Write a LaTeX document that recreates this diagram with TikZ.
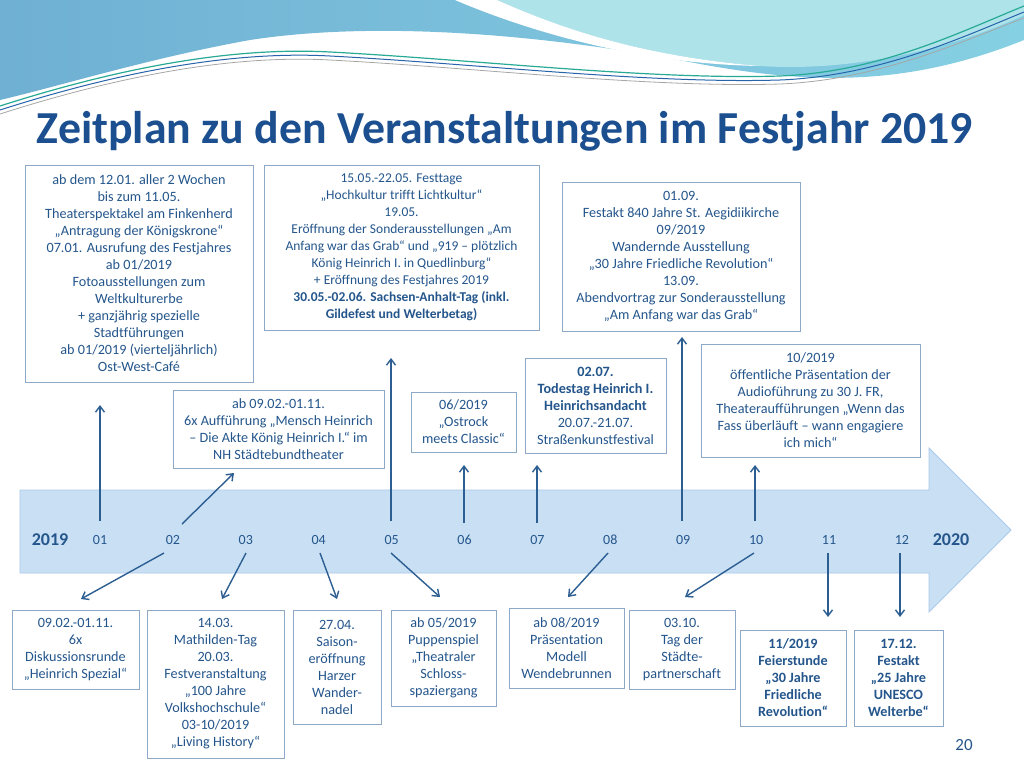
\documentclass[tikz,border=0pt]{standalone}
\usepackage{fontspec}
\setmainfont{Carlito}[Ligatures={NoCommon,TeX}]
\usetikzlibrary{arrows.meta}
\definecolor{titlec}{HTML}{1B4F8F}
\definecolor{txt}{HTML}{24568C}
\definecolor{boxc}{HTML}{8EA9C8}
\definecolor{arrc}{HTML}{2C5E92}
\definecolor{bandfill}{HTML}{C9DFF4}
\definecolor{banddraw}{HTML}{A9C9EA}
\definecolor{wave1}{HTML}{6FB0D3}
\definecolor{wave2}{HTML}{86D0E3}
\definecolor{cyanw}{HTML}{AEE3EA}
\tikzset{
  box/.style={draw=boxc, fill=white, line width=0.8pt, align=center, inner sep=2pt,
    font=\fontsize{14.2}{17}\selectfont, text=txt},
  arr/.style={draw=arrc, line width=1.4pt, -{Straight Barb[length=6pt,width=9pt]}},
  month/.style={font=\fontsize{14}{16}\selectfont, text=txt},
  year/.style={font=\fontsize{18}{20}\selectfont\bfseries, text=txt}
}
\begin{document}
\begin{tikzpicture}[x=1pt,y=-1pt]
\useasboundingbox (0,0) rectangle (1024,768);
\fill[white] (0,0) rectangle (1024,768);
% top waves
\shade[left color=wave1, right color=wave2] (0,0) -- (1024,0) -- (1024,40)
  .. controls (900,90) and (800,82) .. (700,64)
  .. controls (550,35) and (380,20) .. (250,40)
  .. controls (150,58) and (60,86) .. (0,100) -- cycle;
\fill[cyanw] (497,0) -- (1024,0) -- (1024,15) .. controls (950,50) and (850,72) .. (760,66)
  .. controls (640,56) and (560,28) .. (497,0) -- cycle;
\fill[white] (455,0) -- (497,0) .. controls (560,28) and (640,56) .. (760,66)
  .. controls (640,64) and (530,32) .. (455,0) -- cycle;
\draw[line width=1.2pt, color={rgb,255:red,40;green,170;blue,150}] (0,106) .. controls (100,74) and (220,46) .. (330,52)
  .. controls (480,60) and (650,80) .. (780,76) .. controls (880,72) and (960,32) .. (1024,6);
\draw[line width=1pt, color={rgb,255:red,40;green,100;blue,170}] (0,110) .. controls (100,78) and (220,50) .. (330,56)
  .. controls (480,64) and (650,84) .. (780,80) .. controls (880,76) and (965,36) .. (1024,12);
\draw[line width=0.8pt, color=gray!70] (0,114) .. controls (100,82) and (220,54) .. (330,60)
  .. controls (480,68) and (650,88) .. (780,84) .. controls (880,80) and (965,40) .. (1024,18);
% title
\node[anchor=base, text=titlec, font=\fontsize{45.8}{50}\selectfont\bfseries] (title) at (505,143)
  {Zeitplan zu den Veranstaltungen im Festjahr 2019};
% band
\draw[fill=bandfill, draw=banddraw, line width=0.8pt] (20,490) -- (929,490) -- (929,448) -- (1011,530)
  -- (929,612) -- (929,573) -- (20,573) -- cycle;
\node[year] (y2019) at (50,540) {2019};
\node[year] (y2020) at (951,540) {2020};
\foreach \m [count=\i from 0] in {01,02,03,04,05,06,07,08,09,10,11,12}
  \node[month] (m\m) at ({100+72.9*\i},540) {\m};
% top boxes
\node[box, minimum width=228pt, minimum height=217pt] (A) at (139,273.5)
  {ab dem 12.01. aller 2 Wochen\\bis zum 11.05.\\Theaterspektakel am Finkenherd\\„Antragung der Königskrone“\\07.01. Ausrufung des Festjahres\\ab 01/2019\\Fotoausstellungen zum\\Weltkulturerbe\\+ ganzjährig spezielle\\Stadtführungen\\ab 01/2019 (vierteljährlich)\\Ost-West-Café};
\node[box, minimum width=211pt, minimum height=78pt] (B) at (278.5,429)
  {ab 09.02.-01.11.\\6x Aufführung „Mensch Heinrich\\– Die Akte König Heinrich I.“ im\\NH Städtebundtheater};
\node[box, minimum width=275pt, minimum height=165pt, font=\fontsize{13.5}{17}\selectfont] (C) at (401.5,247.5)
  {15.05.-22.05. Festtage\\„Hochkultur trifft Lichtkultur“\\19.05.\\Eröffnung der Sonderausstellungen „Am\\Anfang war das Grab“ und „919 – plötzlich\\König Heinrich I. in Quedlinburg“\\+ Eröffnung des Festjahres 2019\\\textbf{30.05.-02.06. Sachsen-Anhalt-Tag (inkl.}\\\textbf{Gildefest und Welterbetag)}};
\node[box, minimum width=105pt, minimum height=60pt] (D) at (463.5,422)
  {06/2019\\„Ostrock\\meets Classic“};
\node[box, minimum width=141pt, minimum height=95pt] (E) at (595.5,405.5)
  {\textbf{02.07.}\\\textbf{Todestag Heinrich I.}\\\textbf{Heinrichsandacht}\\20.07.-21.07.\\Straßenkunstfestival};
\node[box, minimum width=238pt, minimum height=149pt] (F) at (681,256.5)
  {01.09.\\Festakt 840 Jahre St. Aegidiikirche\\09/2019\\Wandernde Ausstellung\\„30 Jahre Friedliche Revolution“\\13.09.\\Abendvortrag zur Sonderausstellung\\„Am Anfang war das Grab“};
\node[box, minimum width=219pt, minimum height=113pt] (G) at (810.5,400.5)
  {10/2019\\öffentliche Präsentation der\\Audioführung zu 30 J. FR,\\Theateraufführungen „Wenn das\\Fass überläuft – wann engagiere\\ich mich“};
% bottom boxes
\node[box, minimum width=127pt, minimum height=79pt] (H) at (75.5,649.5)
  {09.02.-01.11.\\6x\\Diskussionsrunde\\„Heinrich Spezial“};
\node[box, minimum width=137pt, minimum height=148pt] (I) at (215.5,684)
  {14.03.\\Mathilden-Tag\\20.03.\\Festveranstaltung\\„100 Jahre\\Volkshochschule“\\03-10/2019\\„Living History“};
\node[box, minimum width=88pt, minimum height=114pt] (J) at (337,667)
  {27.04.\\Saison-\\eröffnung\\Harzer\\Wander-\\nadel};
\node[box, minimum width=105pt, minimum height=96pt] (K) at (443.5,658)
  {ab 05/2019\\Puppenspiel\\„Theatraler\\Schloss-\\spaziergang};
\node[box, minimum width=115pt, minimum height=80pt] (L) at (566.5,648)
  {ab 08/2019\\Präsentation\\Modell\\Wendebrunnen};
\node[box, minimum width=106pt, minimum height=79pt] (M) at (682,649.5)
  {03.10.\\Tag der\\Städte-\\partnerschaft};
\node[box, minimum width=106pt, minimum height=96pt, font=\fontsize{14.2}{17}\selectfont\bfseries] (N) at (793,678)
  {11/2019\\Feierstunde\\„30 Jahre\\Friedliche\\Revolution“};
\node[box, minimum width=89pt, minimum height=96pt, font=\fontsize{14.2}{17}\selectfont\bfseries] (O) at (898.5,678)
  {17.12.\\Festakt\\„25 Jahre\\UNESCO\\Welterbe“};
\node[text=txt, font=\fontsize{17}{19}\selectfont] (page) at (964,745) {20};
% arrow end points
\coordinate (u01s) at (100,521); \coordinate (u01e) at (100,405);
\coordinate (u02s) at (182,524); \coordinate (u02e) at (234,473);
\coordinate (u05s) at (391,521); \coordinate (u05e) at (391,358);
\coordinate (u06s) at (464,523); \coordinate (u06e) at (464,465);
\coordinate (u07s) at (537,523); \coordinate (u07e) at (537,465);
\coordinate (u09s) at (682,521); \coordinate (u09e) at (682,337);
\coordinate (u10s) at (755,521); \coordinate (u10e) at (755,465);
\coordinate (d02s) at (164,553); \coordinate (d02e) at (81,599);
\coordinate (d03s) at (246,553); \coordinate (d03e) at (222,599);
\coordinate (d04s) at (320,553); \coordinate (d04e) at (337,599);
\coordinate (d05s) at (391,553); \coordinate (d05e) at (440,597);
\coordinate (d08s) at (608,553); \coordinate (d08e) at (568,597);
\coordinate (d10s) at (754,553); \coordinate (d10e) at (685,597);
\coordinate (d11s) at (828,553); \coordinate (d11e) at (828,617);
\coordinate (d12s) at (900,553); \coordinate (d12e) at (900,617);
\foreach \a in {u01,u02,u05,u06,u07,u09,u10,d02,d03,d04,d05,d08,d10,d11,d12}
  \draw[arr] (\a s) -- (\a e);
\end{tikzpicture}
\end{document}
